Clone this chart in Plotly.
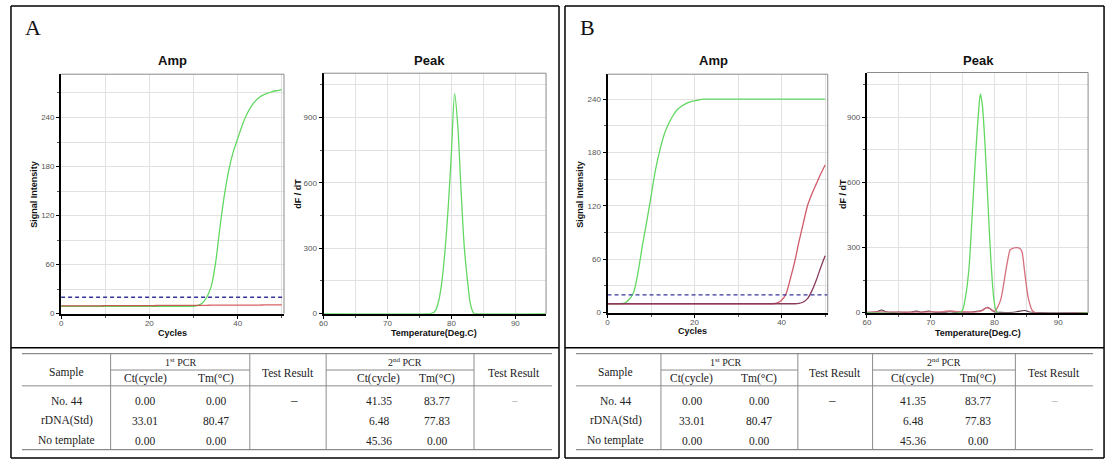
import plotly.graph_objects as go

W, H = 1117, 470

# ---------------- data ----------------
cycles = [0, 1, 2, 3, 4, 5, 6, 7, 8, 9, 10, 11, 12, 13, 14, 15, 16, 17, 18, 19, 20,
          21, 22, 23, 24, 25, 26, 27, 28, 29, 30, 31, 32, 33, 34, 35, 36, 37, 38, 39, 40,
          41, 42, 43, 44, 45, 46, 47, 48, 49, 50]

ampA_std = [9, 9, 9, 9, 9, 9, 9, 9, 9, 9, 9, 9, 9, 9, 9, 9, 9, 9, 9, 9, 9,
            9, 9, 9, 9, 9, 9, 9, 9, 9, 9, 10, 13, 20, 33, 62, 106, 145, 176, 198, 214,
            230, 243, 253, 260, 265, 268, 270, 272, 273, 274]
ampA_sample = [9.5, 9.5, 9.5, 9.5, 9.5, 9.5, 9.5, 9.6, 9.6, 9.6, 9.7, 9.7, 9.7, 9.7, 9.8, 9.8, 9.8, 9.8, 9.9, 9.9, 9.9,
               9.9, 10.0, 10.0, 10.0, 10.0, 10.1, 10.1, 10.1, 10.1, 10.2, 10.2, 10.2, 10.2, 10.3, 10.3, 10.3, 10.3, 10.4, 10.4, 10.4,
               10.4, 10.5, 10.5, 10.5, 10.5, 10.6, 10.6, 10.6, 10.6, 10.7]
thresholdA = 20

ampB_std = [10, 10, 10, 10, 11, 15, 23, 45, 75, 102, 131, 160, 182, 200, 212, 221, 228, 232, 235, 237, 238,
            239, 240, 240, 240, 240, 240, 240, 240, 240, 240, 240, 240, 240, 240, 240, 240, 240, 240, 240, 240,
            240, 240, 240, 240, 240, 240, 240, 240, 240, 240]
ampB_sample = [10, 10, 10, 10, 10, 10, 10, 10, 10, 10, 10, 10, 10, 10, 10, 10, 10, 10, 10, 10, 10,
               10, 10, 10, 10, 10, 10, 10, 10, 10, 10, 10, 10, 10, 10, 10, 10, 10, 10, 11, 14,
               21, 38, 57, 80, 101, 121, 134, 145, 156, 166]
ampB_ntc = [10, 10, 10, 10, 10, 10, 10, 10, 10, 10, 10, 10, 10, 10, 10, 10, 10, 10, 10, 10, 10,
            10, 10, 10, 10, 10, 10, 10, 10, 10, 10, 10, 10, 10, 10, 10, 10, 10, 10, 10, 10,
            10, 10, 10, 10.5, 12, 16, 25, 37, 51, 64]
thresholdB = 20

peakA_temp = [60, 76.5, 77.0, 77.5, 78.0, 78.5, 79.0, 79.5, 80.0, 80.5, 81.0, 81.5, 82.0, 82.5, 83.0, 83.5, 84.0, 95]
peakA_std = [0, 0, 2, 14, 58, 145, 290, 490, 740, 1010, 860, 570, 310, 155, 40, 2, 0, 0]

peakB_temp_std = [60, 74.5, 75.0, 75.5, 76.0, 76.5, 77.0, 77.5, 77.8, 78.1, 78.5, 79.0, 79.5, 80.0, 80.5, 95]
peakB_std = [0, 0, 12, 78, 200, 440, 700, 920, 1008, 960, 790, 500, 220, 45, 0, 0]

peakB_temp_sample = [60, 62, 65, 68, 70, 72, 73, 74, 75, 76, 77, 78, 78.7, 79.2, 79.7, 80.2, 80.5, 81, 81.5,
                     82, 82.5, 83, 83.5, 84, 84.3, 84.8, 85.3, 85.9, 86.4, 95]
peakB_sample = [2, 3, 2, 2, 3, 5, 8, 5, 4, 3, 2, 8, 22, 20, 8, 10, 25, 60, 140,
                228, 290, 298, 300, 296, 283, 175, 70, 12, 0, 0]

peakB_temp_ntc = [60, 61.5, 62.3, 63, 64, 65, 66, 67, 67.8, 68.5, 69.7, 70.5, 72, 73, 74, 75, 76, 77, 78,
                  78.9, 79.5, 80, 81, 83, 84.8, 85.5, 87, 95]
peakB_ntc = [0, 4, 12, 4, 1, 3, 1, 3, 7, 2, 7, 2, 1, 4, 1, 2, 2, 5, 10,
             25, 15, 3, 1, 2, 10, 3, 0, 0]

table_rows = ["No. 44", "rDNA(Std)", "No template"]
ct1 = ["0.00", "33.01", "0.00"]
tm1 = ["0.00", "80.47", "0.00"]
ct2 = ["41.35", "6.48", "45.36"]
tm2 = ["83.77", "77.83", "0.00"]

# ---------------- helpers ----------------
def px(x):
    return x / W

def py(y):
    return 1 - y / H

GREEN = "#62d862"
fig = go.Figure()

# subplot geometry (pixel boxes)
boxes = {
    "1": (57.3, 281, 75, 317),
    "2": (320.7, 544, 74, 317),
    "3": (605.7, 826.7, 75, 316),
    "4": (866, 1088, 73.3, 316),
}
ranges = {
    "1": ([0, 50.5], [0, 293], 20, 10, 60, 30),
    "2": ([60, 94.8], [0, 1104], 10, 5, 300, 150),
    "3": ([0, 50.6], [0, 268], 20, 10, 60, 30),
    "4": ([60, 94.7], [0, 1107], 10, 5, 300, 150),
}

tickfont = dict(family="Liberation Sans, Arial", size=8, color="#555")
layout_axes = {}
for k, (x0, x1, y0, y1) in boxes.items():
    xr, yr, xd, xmd, yd, ymd = ranges[k]
    xname = "xaxis" if k == "1" else "xaxis" + k
    yname = "yaxis" if k == "1" else "yaxis" + k
    ax = "x" if k == "1" else "x" + k
    ay = "y" if k == "1" else "y" + k
    layout_axes[xname] = dict(
        domain=[px(x0), px(x1)], range=xr, anchor=ay, dtick=xd, tick0=0,
        showline=True, linecolor="black", linewidth=2, ticks="outside", ticklen=3,
        tickcolor="black", tickfont=tickfont, showgrid=True, gridcolor="#e2e2e2", gridwidth=1,
        zeroline=False, fixedrange=True, ticklabelstandoff=-2,
        minor=dict(dtick=xmd, tick0=0, ticks="outside", ticklen=2, tickcolor="#555",
                   showgrid=True, gridcolor="#e2e2e2", gridwidth=1),
    )
    layout_axes[yname] = dict(
        domain=[py(y1), py(y0)], range=yr, anchor=ax, dtick=yd, tick0=0,
        showline=True, linecolor="black", linewidth=2, ticks="outside", ticklen=3,
        tickcolor="black", tickfont=tickfont, showgrid=True, gridcolor="#e2e2e2", gridwidth=1,
        zeroline=False, fixedrange=True,
        minor=dict(dtick=ymd, tick0=0, ticks="outside", ticklen=2, tickcolor="#555",
                   showgrid=True, gridcolor="#e2e2e2", gridwidth=1),
    )

def line(x, y, color, xa, ya, width=1.3, dash=None, shape="spline", opacity=1.0):
    fig.add_trace(go.Scatter(
        x=x, y=y, mode="lines", xaxis=xa, yaxis=ya, opacity=opacity,
        line=dict(color=color, width=width, dash=dash, shape=shape, smoothing=0.8),
        showlegend=False, hoverinfo="skip", cliponaxis=True,
    ))

# Panel A amp
line(cycles, ampA_std, GREEN, "x", "y")
line(cycles, ampA_sample, "#cc3030", "x", "y", opacity=0.75)
line([0, 50.5], [thresholdA, thresholdA], "#34349a", "x", "y", width=1.4, dash="4px,3px", shape="linear")
# Panel A peak
line(peakA_temp, peakA_std, GREEN, "x2", "y2")
# Panel B amp
line(cycles, ampB_std, GREEN, "x3", "y3")
line(cycles, ampB_sample, "#d05a68", "x3", "y3")
line(cycles, ampB_ntc, "#8a3a5c", "x3", "y3")
line([0, 50.6], [thresholdB, thresholdB], "#34349a", "x3", "y3", width=1.4, dash="4px,3px", shape="linear")
# Panel B peak
line(peakB_temp_ntc, peakB_ntc, "#553344", "x4", "y4", width=1.1)
line(peakB_temp_sample, peakB_sample, "#d46e7c", "x4", "y4")
line(peakB_temp_std, peakB_std, GREEN, "x4", "y4")

shapes = []
annotations = []

def hline(x0, x1, y, color="black", width=1.5):
    shapes.append(dict(type="line", xref="paper", yref="paper", x0=px(x0), x1=px(x1),
                       y0=py(y), y1=py(y), line=dict(color=color, width=width)))

def vline(x, y0, y1, color="black", width=1.5):
    shapes.append(dict(type="line", xref="paper", yref="paper", x0=px(x), x1=px(x),
                       y0=py(y0), y1=py(y1), line=dict(color=color, width=width)))

def text(x, y, s, size=11.5, family="Liberation Serif, Times New Roman", color="#222", angle=0):
    annotations.append(dict(x=px(x), y=py(y), xref="paper", yref="paper", text=s,
                            showarrow=False, xanchor="center", yanchor="middle", textangle=angle,
                            font=dict(size=size, family=family, color=color)))

# plot frames (top/right thin grey)
for k, (x0, x1, y0, y1) in boxes.items():
    hline(x0, x1, y0, "#8a8a8a", 1)
    vline(x1, y0, y1, "#8a8a8a", 1)

# panel frames
for (L, R) in [(7, 557), (563, 1104)]:
    hline(L, R, 6)
    hline(L, R, 463)
    vline(L, 6, 463)
    vline(R, 6, 463)
    hline(L, R, 351.5)

text(29, 28, "A", size=22, color="#111")
text(586, 28, "B", size=22, color="#111")

sans = "Liberation Sans, Arial"
for (cx, lbl) in [(169, "Amp"), (427, "Peak"), (712, "Amp"), (978, "Peak")]:
    text(cx, 61, "<b>%s</b>" % lbl, size=13, family=sans, color="#111")
text(169, 337, "<b>Cycles</b>", size=9, family=sans, color="#111")
text(691, 335, "<b>Cycles</b>", size=9, family=sans, color="#111")
text(432, 337, "<b>Temperature(Deg.C)</b>", size=9, family=sans, color="#111")
text(977, 337, "<b>Temperature(Deg.C)</b>", size=9, family=sans, color="#111")
text(30, 196, "<b>Signal Intensity</b>", size=9, family=sans, color="#111", angle=-90)
text(578, 196, "<b>Signal Intensity</b>", size=9, family=sans, color="#111", angle=-90)
text(295, 196, "<b>dF / dT</b>", size=9, family=sans, color="#111", angle=-90)
text(842, 196, "<b>dF / dT</b>", size=9, family=sans, color="#111", angle=-90)

# tables
tables = [
    dict(L=18, R=550, v1=107, v2=246.7, v3=323.3, v4=471.7,
         sample=63, p1=177, c1=142, t1=213, tr1=286, dash1=291, p2=402, c2=376, t2=435, tr2=512),
    dict(L=574, R=1093, v1=659.3, v2=796.7, v3=871.7, v4=1015,
         sample=614, p1=724, c1=690, t1=758, tr1=834, dash1=831, p2=943, c2=912, t2=977, tr2=1054),
]
GRID = "#8c8c8c"
for t in tables:
    top, mid, hb, bot = 357.5, 374, 390, 454.5
    hline(t["L"], t["R"], top, GRID, 1.2)
    hline(t["L"], t["R"], bot, GRID, 1.2)
    hline(t["L"], t["R"], hb, GRID, 1)
    hline(t["v1"], t["v2"], mid, GRID, 1)
    hline(t["v3"], t["v4"], mid, GRID, 1)
    for v in ["v1", "v2", "v3", "v4"]:
        vline(t[v], top, bot, GRID, 1)
    text(t["sample"], 377, "Sample")
    text(t["p1"], 366, "1<sup>st</sup> PCR", size=10)
    text(t["p2"], 366, "2<sup>nd</sup> PCR", size=10)
    text(t["c1"], 382.5, "Ct(cycle)")
    text(t["t1"], 382.5, "Tm(°C)")
    text(t["c2"], 382.5, "Ct(cycle)")
    text(t["t2"], 382.5, "Tm(°C)")
    text((t["v2"] + t["v3"]) / 2, 377, "Test Result")
    text(t["tr2"], 377, "Test Result")
    rows_y = [405, 425.5, 445.5]
    for i, yy in enumerate(rows_y):
        text(t["sample"], yy, table_rows[i])
        text(t["c1"], yy, ct1[i])
        text(t["t1"], yy, tm1[i])
        text(t["c2"], yy, ct2[i])
        text(t["t2"], yy, tm2[i])
    text(t["dash1"], 404, "–", size=13, color="#111")
    text(t["tr2"], 404, "–", size=11, color="#999")

fig.update_layout(
    width=W, height=H, margin=dict(l=0, r=0, t=0, b=0),
    paper_bgcolor="white", plot_bgcolor="white",
    showlegend=False, shapes=shapes, annotations=annotations,
    **layout_axes,
)

fig.write_html("out.html", config={"displayModeBar": False},
               post_script="document.body.style.margin='0';document.body.style.overflow='hidden';")
